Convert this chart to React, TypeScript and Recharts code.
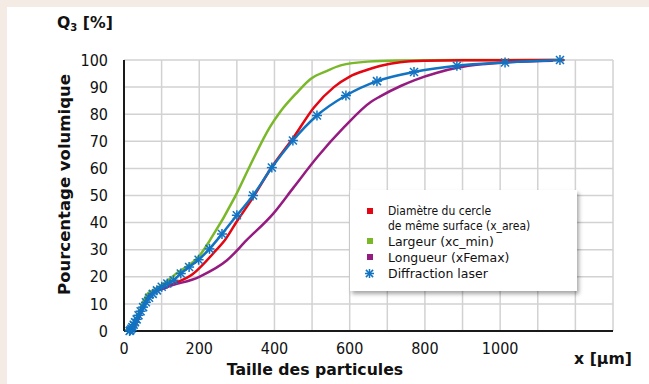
import React from 'react';
import { LineChart, Line, XAxis, YAxis, CartesianGrid, Legend } from 'recharts';

// ---- axis ticks ----
const xTicks = [0, 100, 200, 300, 400, 500, 600, 700, 800, 900, 1000, 1100, 1200, 1300];
const xLabelTicks = [0, 200, 400, 600, 800, 1000];
const yTicks = [0, 10, 20, 30, 40, 50, 60, 70, 80, 90, 100];

// ---- series: Diamètre du cercle de même surface (x_area) ----
const areaX = [20, 30, 40, 50, 67, 112, 183, 246, 268, 299, 344, 393, 451, 505, 558, 599, 645, 680, 734, 800, 900, 1170];
const areaY = [0, 2, 5, 8.5, 12.5, 16.2, 21, 30, 33.5, 40.2, 49.5, 60.5, 71.5, 82.5, 90, 93.8, 96.3, 97.8, 99.2, 99.7, 99.9, 100];

// ---- series: Largeur (xc_min) ----
const minX = [3, 25, 40, 50, 60, 78, 100, 140, 202, 229, 295, 335, 389, 416, 460, 496, 540, 576, 648, 740, 900, 1170];
const minY = [0, 3, 7, 10.5, 13.3, 15.1, 17, 21.3, 28, 33.6, 49.5, 61, 75.5, 81, 88, 93, 96, 98, 99.4, 99.8, 100, 100];

// ---- series: Longueur (xFemax) ----
const femaxX = [20, 35, 50, 67, 112, 200, 273, 326, 398, 451, 514, 585, 657, 680, 737, 773, 830, 889, 950, 1013, 1140];
const femaxY = [0, 4, 8.5, 13, 16, 20, 26, 33.5, 43.5, 53, 64.2, 75.2, 84.6, 86.5, 90.5, 92.6, 95.2, 97.2, 98.4, 99.1, 99.7];

// ---- series: Diffraction laser ----
const laserX = [14.9, 17, 19.5, 22.4, 25.7, 29.4, 33.7, 38.6, 44.3, 50.7, 58.2, 66.6, 76.4, 87.5, 100.3, 115, 131.8, 151, 173.1, 198.3, 227.3, 260.5, 300, 343, 393, 449, 513, 590, 672.5, 771, 885, 1013, 1159];
const laserY = [0, 0.3, 0.8, 1.5, 2.3, 3.2, 4.3, 5.8, 7.3, 8.8, 10.6, 12.3, 13.7, 15, 16.3, 17.5, 18.7, 21.2, 23.6, 26.3, 30.3, 35.8, 42.7, 50, 60.3, 70.3, 79.5, 86.9, 92.2, 95.6, 97.9, 99.1, 100];

const zip = (xs: number[], ys: number[]) => xs.map((x, i) => ({ x, y: ys[i] }));

const areaData = zip(areaX, areaY);
const minData = zip(minX, minY);
const femaxData = zip(femaxX, femaxY);
const laserData = zip(laserX, laserY);

const RED = '#e30613';
const GREEN = '#7ab829';
const PURPLE = '#951b81';
const BLUE = '#1273c2';

const TICK_FONT = "'Liberation Sans Narrow', 'DejaVu Sans Condensed', sans-serif";
const TITLE_FONT = "'DejaVu Sans', Verdana, sans-serif";

const Star = ({ cx, cy, r = 5, color = BLUE }: { cx: number; cy: number; r?: number; color?: string }) => {
  if (cx == null || cy == null || isNaN(cx) || isNaN(cy)) return <g />;
  const d = r * 0.8;
  return (
    <g stroke={color} strokeWidth={1.5}>
      <line x1={cx} y1={cy - r} x2={cx} y2={cy + r} />
      <line x1={cx - d} y1={cy - d} x2={cx + d} y2={cy + d} />
      <line x1={cx - d} y1={cy + d} x2={cx + d} y2={cy - d} />
      <line x1={cx - r} y1={cy} x2={cx + r} y2={cy} />
    </g>
  );
};

const legendStyle: React.CSSProperties = {
  position: 'relative',
  width: 227,
  height: 101,
  background: '#ffffff',
  boxShadow: '2px 3px 4px rgba(0,0,0,0.35)',
};

const renderLegend = () => (
  <div style={legendStyle}>
    <div style={{ position: 'absolute', left: 17, top: 18, width: 6, height: 6, background: RED }} />
    <div style={{ position: 'absolute', left: 38, top: 14, fontFamily: TICK_FONT, fontSize: 12, lineHeight: '15px', color: '#111', whiteSpace: 'nowrap' }}>
      Diamètre du cercle
    </div>
    <div style={{ position: 'absolute', left: 38, top: 29, fontFamily: TICK_FONT, fontSize: 12, lineHeight: '15px', color: '#111', whiteSpace: 'nowrap' }}>
      de même surface (x_area)
    </div>
    <div style={{ position: 'absolute', left: 17, top: 48, width: 6, height: 6, background: GREEN }} />
    <div style={{ position: 'absolute', left: 38, top: 44, fontFamily: TITLE_FONT, fontSize: 12.5, lineHeight: '15px', color: '#111', whiteSpace: 'nowrap' }}>
      Largeur (xc_min)
    </div>
    <div style={{ position: 'absolute', left: 17, top: 64, width: 6, height: 6, background: PURPLE }} />
    <div style={{ position: 'absolute', left: 38, top: 60, fontFamily: TITLE_FONT, fontSize: 12.5, lineHeight: '15px', color: '#111', whiteSpace: 'nowrap' }}>
      Longueur (xFemax)
    </div>
    <svg style={{ position: 'absolute', left: 13, top: 77 }} width={13} height={13}>
      <Star cx={6.5} cy={6.5} r={4.5} />
    </svg>
    <div style={{ position: 'absolute', left: 38, top: 76, fontFamily: TITLE_FONT, fontSize: 12.5, lineHeight: '15px', color: '#111', whiteSpace: 'nowrap' }}>
      Diffraction laser
    </div>
  </div>
);

export default function App() {
  return (
    <div style={{ position: 'absolute', left: 0, top: 0, width: 649, height: 384, background: '#f4ece4', overflow: 'hidden' }}>
      <div style={{ position: 'absolute', left: 7, top: 7, width: 642, height: 377, background: '#ffffff' }} />
      <div style={{ position: 'absolute', left: 0, top: 0 }}>
        <LineChart width={649} height={384} margin={{ top: 60, right: 36, bottom: 0, left: 0 }}>
          <CartesianGrid stroke="#d2d2d2" strokeWidth={1.5} />
          <XAxis
            dataKey="x"
            type="number"
            domain={[0, 1300]}
            ticks={xTicks}
            interval={0}
            height={53}
            tickLine={false}
            tickSize={0}
            tickMargin={12}
            axisLine={{ stroke: '#1a1a1a', strokeWidth: 2 }}
            tick={{ fill: '#111', fontSize: 16, fontFamily: TICK_FONT }}
            tickFormatter={(v: number) => (xLabelTicks.includes(v) ? String(v) : '')}
          />
          <YAxis
            type="number"
            domain={[0, 100]}
            ticks={yTicks}
            interval={0}
            width={124}
            tickLine={false}
            tickSize={0}
            tickMargin={16}
            axisLine={{ stroke: '#1a1a1a', strokeWidth: 2 }}
            tick={{ fill: '#111', fontSize: 16, fontFamily: TICK_FONT }}
          />
          <Legend
            layout="vertical"
            align="center"
            verticalAlign="middle"
            content={renderLegend}
            wrapperStyle={{ position: 'absolute', left: 350, top: 190, width: 227, height: 101 }}
          />
          <Line name="Largeur (xc_min)" data={minData} dataKey="y" type="monotone" stroke={GREEN} strokeWidth={2.5} dot={false} isAnimationActive={false} />
          <Line name="Diamètre du cercle de même surface (x_area)" data={areaData} dataKey="y" type="monotone" stroke={RED} strokeWidth={2.5} dot={false} isAnimationActive={false} />
          <Line name="Longueur (xFemax)" data={femaxData} dataKey="y" type="monotone" stroke={PURPLE} strokeWidth={2.5} dot={false} isAnimationActive={false} />
          <Line
            name="Diffraction laser"
            data={laserData}
            dataKey="y"
            type="monotone"
            stroke={BLUE}
            strokeWidth={2.5}
            dot={(p: any) => <Star key={`s${p.index}`} cx={p.cx} cy={p.cy} />}
            isAnimationActive={false}
          />
        </LineChart>
      </div>
      <svg style={{ position: 'absolute', left: 0, top: 0, pointerEvents: 'none' }} width={649} height={384}>
        <text x={57} y={28} fontFamily={TITLE_FONT} fontWeight="bold" fontSize={15.7} fill="#111">
          Q<tspan fontSize={10} dy={3}>3</tspan>
          <tspan dy={-3}> [%]</tspan>
        </text>
        <text x={70} y={184.5} transform="rotate(-90 70 184.5)" textAnchor="middle" fontFamily={TITLE_FONT} fontWeight="bold" fontSize={16.5} fill="#111">
          Pourcentage volumique
        </text>
        <text x={315} y={375} textAnchor="middle" fontFamily={TITLE_FONT} fontWeight="bold" fontSize={15.7} fill="#111">
          Taille des particules
        </text>
        <text x={603} y={364} textAnchor="middle" fontFamily={TITLE_FONT} fontWeight="bold" fontSize={15.7} fill="#111">
          x [µm]
        </text>
      </svg>
    </div>
  );
}
